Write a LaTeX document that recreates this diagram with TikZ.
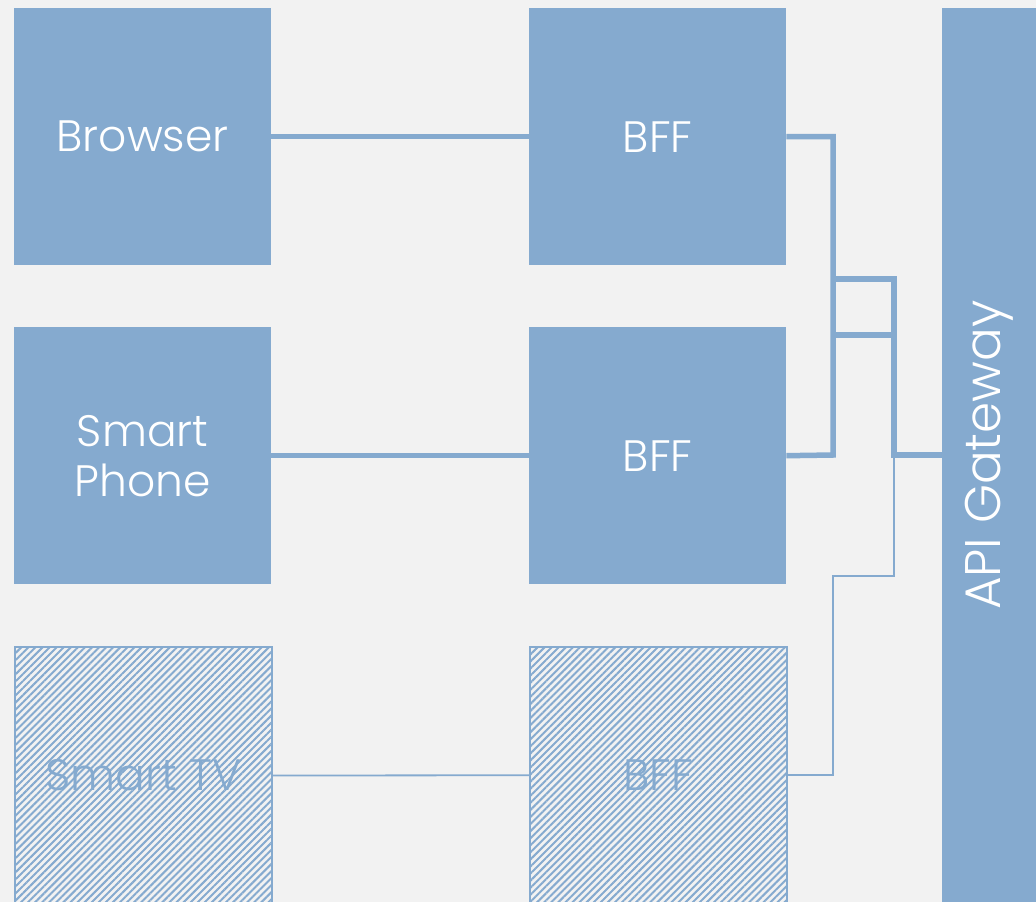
\documentclass[tikz,border=0pt]{standalone}
\usepackage{fontspec}
\setmainfont{Poppins Light}
\usetikzlibrary{patterns.meta}
\definecolor{bfill}{HTML}{85AACF}
\definecolor{bg}{HTML}{F2F2F2}
\begin{document}
\begin{tikzpicture}[x=1pt,y=-1pt,
  solidbox/.style={fill=bfill,draw=none,minimum width=257pt,minimum height=257pt,inner sep=0pt,text=white,font=\fontsize{44}{50}\selectfont,align=center,anchor=north west},
  hatchbox/.style={draw=bfill,line width=1.5pt,minimum width=257pt,minimum height=257pt,inner sep=0pt,text=bfill,font=\fontsize{44}{50}\selectfont,align=center,anchor=north west,
    pattern={Lines[angle=45,distance=5pt,line width=2pt]},pattern color=bfill},
  thick/.style={draw=bfill,line width=5.5pt},
  thin/.style={draw=bfill,line width=1.8pt}]
\fill[bg] (0,0) rectangle (1036,902);
\useasboundingbox (0,0) rectangle (1036,902);
\node[solidbox] (browser) at (14,8) {Browser};
\node[solidbox] (phone) at (14,327) {Smart\\Phone};
\node[hatchbox] (tv) at (14,646) {Smart TV};
\node[solidbox] (bff1) at (529,8) {BFF};
\node[solidbox] (bff2) at (529,327) {BFF};
\node[hatchbox] (bff3) at (529,646) {BFF};
\node[fill=bfill,minimum width=94pt,minimum height=894pt,inner sep=0pt,anchor=north west] (api) at (942,8) {};
\node[rotate=90,text=white,font=\fontsize{50}{56}\selectfont] (apilabel) at (api.center) {API Gateway};
\coordinate (j1) at (833,279);
\coordinate (j2) at (894,279);
\coordinate (j3) at (894,455);
\coordinate (j4) at (894,576);
\coordinate (j5) at (833,576);
\coordinate (j6) at (833,335);
\coordinate (j7) at (894,335);
\coordinate (j8) at (833,455);
\draw[thick] (browser.east) -- (bff1.west);
\draw[thick] (phone.east) -- (bff2.west);
\draw[thin] (tv.east) -- (bff3.west);
\draw[thick] (bff1.east) -- (bff1.east -| j8) -- (j8) -- (bff2.east);
\draw[thick] (j1) -- (j2) -- (j3) -- (api.west |- j3);
\draw[thick] (j6) -- (j7);
\draw[thin] (j3) -- (j4) -- (j5) |- (bff3.east);
\end{tikzpicture}
\end{document}
